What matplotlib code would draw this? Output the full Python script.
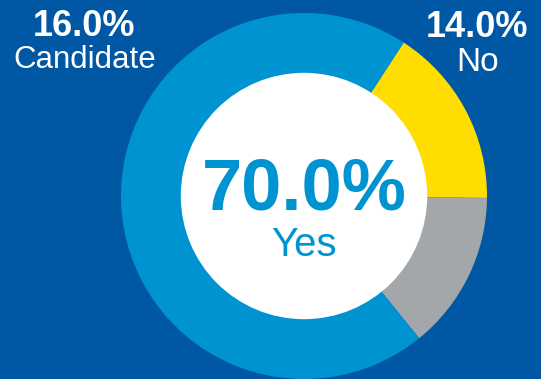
import matplotlib.pyplot as plt

# Survey result shares
labels = ["Candidate", "No", "Yes"]
values = [16.0, 14.0, 70.0]
colors = ["#FFDD00", "#A3A7AA", "#0093D1"]
bg = "#0058A5"

plt.rcParams['font.family'] = ['Liberation Sans', 'DejaVu Sans']

fig = plt.figure(figsize=(5.41, 3.79), dpi=100, facecolor=bg)
ax = fig.add_axes([0, 0, 1, 1])
ax.set_facecolor(bg)

# Donut ring
cx, cy, r = 304, 183, 183
ax.pie(values, colors=colors, startangle=57, counterclock=False,
       center=(cx, cy), radius=r, frame=True,
       wedgeprops=dict(width=60.5, linewidth=0))
ax.set_xlim(0, 541)
ax.set_ylim(0, 379)
ax.set_aspect("equal")
ax.axis("off")

# White hole in the middle
ax.add_patch(plt.Circle((cx, cy), r - 60.5, color="white", zorder=3))

# Centre label for the main slice
ax.text(cx, 169, f"{values[2]:.1f}%", color=colors[2], fontsize=52,
        fontweight="bold", ha="center", va="baseline", zorder=4)
ax.text(cx, 123, labels[2], color=colors[2], fontsize=29,
        ha="center", va="baseline", zorder=4)

# Corner labels for the smaller slices
ax.text(84, 343, f"{values[0]:.1f}%", color="white", fontsize=26,
        fontweight="bold", ha="center", va="baseline")
ax.text(85, 311, labels[0], color="white", fontsize=22.5,
        ha="center", va="baseline")
ax.text(477, 342, f"{values[1]:.1f}%", color="white", fontsize=26,
        fontweight="bold", ha="center", va="baseline")
ax.text(478, 308, labels[1], color="white", fontsize=24,
        ha="center", va="baseline")

fig.savefig("out.png", dpi=100, facecolor=bg)
